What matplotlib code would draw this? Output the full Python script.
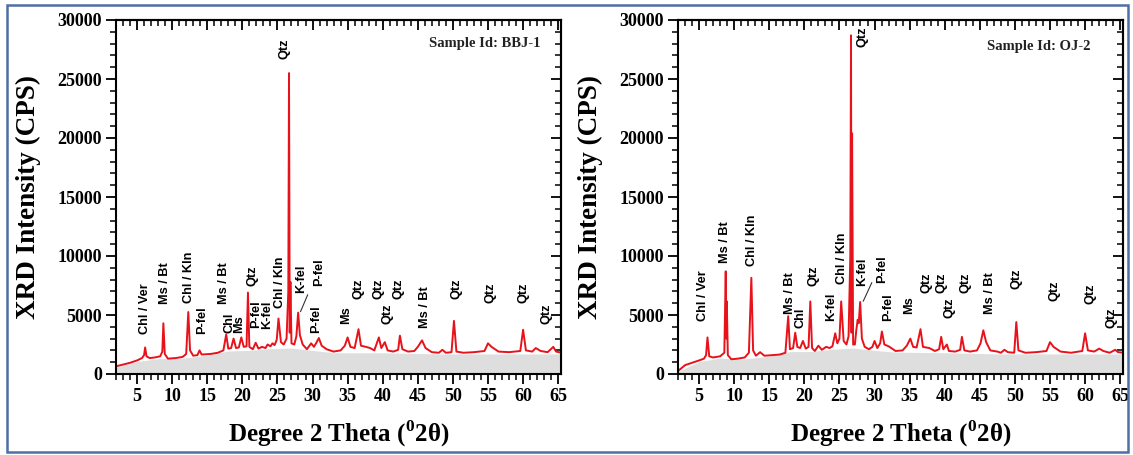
import matplotlib
matplotlib.use("Agg")
import matplotlib.pyplot as plt
from matplotlib.ticker import MultipleLocator
from matplotlib.patches import Rectangle

plt.rcParams["mathtext.fontset"] = "custom"
plt.rcParams["mathtext.rm"] = "Liberation Serif:bold"
plt.rcParams["mathtext.bf"] = "Liberation Serif:bold"

# ---- data ----
bbj_x = [2, 3, 4, 5, 5.7, 6.0, 6.15, 6.35, 6.8, 7.5, 8.3, 8.6, 8.75, 8.95, 9.4, 10.5, 11.5, 12.0, 12.3, 12.55,
         13.0, 13.6, 13.9, 14.2, 15.5, 16.5, 17.3, 17.7, 18.0, 18.4, 18.75, 19.1, 19.5, 19.85, 20.2, 20.6, 20.8,
         21.0, 21.5, 21.9, 22.3, 22.8, 23.3, 23.6, 24.0, 24.3, 24.6, 24.9, 25.15, 25.5, 25.9, 26.3, 26.55, 26.65,
         26.75, 26.85, 27.0, 27.4, 27.7, 27.95, 28.2, 28.6, 29.2, 29.8, 30.2, 30.5, 30.9, 31.3, 32.0, 33.0, 34.0,
         34.6, 35.0, 35.4, 36.0, 36.55, 36.9, 37.6, 38.2, 38.8, 39.45, 39.8, 40.3, 40.7, 41.5, 42.2, 42.45, 42.8,
         43.6, 44.5, 45.0, 45.6, 46.1, 47.0, 48.0, 48.5, 49.0, 49.8, 50.15, 50.5, 51.5, 53.0, 54.5, 55.0, 55.5,
         56.5, 58.0, 59.6, 60.0, 60.4, 61.3, 61.8, 62.5, 63.5, 64.3, 64.7, 65.5]
bbj_y = [650, 800, 950, 1150, 1350, 1600, 2250, 1500, 1350, 1400, 1500, 1900, 4300, 1700, 1300, 1350, 1450, 1700,
         5250, 2000, 1550, 1600, 2000, 1650, 1700, 1800, 2000, 3350, 2150, 2200, 3000, 2200, 2250, 3100, 2300,
         2350, 6900, 2300, 2100, 2650, 2150, 2300, 2200, 2500, 2350, 2600, 2450, 2900, 4700, 2700, 2500, 3000,
         7000, 25500, 3500, 7800, 2600, 2500, 3200, 5200, 3300, 2500, 2100, 2600, 2300, 2600, 3050, 2400, 2100,
         1900, 2000, 2400, 3100, 2300, 2200, 3800, 2400, 2300, 2200, 2000, 3100, 2200, 2700, 2000, 1900, 2050,
         3250, 2100, 1900, 1950, 2300, 2850, 2200, 1850, 1800, 2050, 1800, 1850, 4500, 1900, 1800, 1850, 1950,
         2600, 2300, 1900, 1850, 1950, 3750, 2000, 1900, 2200, 1950, 1850, 2300, 1900, 1800]
bbj_bg_x = [2, 5, 8, 11, 15, 18, 21, 24, 27, 30, 33, 40, 48, 55, 65.5]
bbj_bg_y = [600, 1050, 1300, 1300, 1600, 1950, 2000, 2150, 2200, 2000, 1800, 1800, 1700, 1700, 1700]

oj_x = [2, 3, 4, 5, 5.7, 6.0, 6.2, 6.45, 7.0, 8.0, 8.6, 8.8, 8.9, 8.95, 9.1, 9.6, 10.5, 11.5, 12.1, 12.45, 12.7,
        13.1, 13.7, 14.3, 15.5, 16.5, 17.3, 17.7, 17.95, 18.4, 18.7, 19.0, 19.4, 19.8, 20.2, 20.6, 20.85, 21.1,
        21.5, 22.0, 22.5, 23.1, 23.6, 24.0, 24.4, 24.7, 25.0, 25.25, 25.6, 26.0, 26.3, 26.55, 26.65, 26.72, 26.8,
        26.95, 27.2, 27.4, 27.6, 27.75, 27.95, 28.2, 28.6, 29.2, 29.7, 30.0, 30.4, 30.8, 31.05, 31.4, 32.0, 33.0,
        34.0, 34.6, 35.1, 35.5, 36.0, 36.55, 36.9, 37.8, 38.6, 39.2, 39.5, 39.8, 40.3, 40.6, 41.5, 42.2, 42.45,
        42.8, 43.6, 44.6, 45.1, 45.5, 45.9, 46.5, 47.5, 48.0, 48.5, 49.0, 49.9, 50.2, 50.5, 51.5, 53.0, 54.5,
        55.0, 55.5, 56.5, 58.0, 59.6, 60.0, 60.4, 61.3, 62.0, 62.6, 63.5, 64.3, 64.7, 65.5]
oj_y = [250, 750, 950, 1150, 1300, 1600, 3100, 1500, 1400, 1500, 1800, 8700, 3000, 6150, 1600, 1250, 1300, 1400,
        1800, 8150, 2000, 1550, 1850, 1550, 1600, 1650, 1800, 4900, 2100, 2200, 3500, 2300, 2200, 2800, 2150,
        2300, 6150, 2200, 1950, 2400, 2050, 2300, 2200, 2350, 3450, 2600, 3000, 6150, 2800, 2500, 3200, 10000,
        28700, 3500, 20400, 2500, 2500, 3700, 4600, 4300, 6100, 3000, 2300, 2100, 2300, 2800, 2200, 2600, 3600,
        2500, 2350, 1950, 2000, 2400, 3000, 2300, 2250, 3800, 2300, 2200, 1950, 2100, 3150, 2100, 2500, 1950,
        1900, 2050, 3150, 2000, 1900, 2000, 2600, 3700, 2700, 2000, 1900, 1800, 2050, 1850, 1800, 4400, 2000,
        1800, 1850, 1950, 2700, 2300, 1900, 1800, 1950, 3450, 2000, 1900, 2150, 1950, 1800, 2050, 1850, 1800]
oj_bg_x = [2, 5, 8, 11, 15, 18, 21, 24, 27, 30, 33, 40, 48, 55, 65.5]
oj_bg_y = [200, 1050, 1350, 1250, 1500, 1900, 1900, 2100, 2200, 2000, 1850, 1800, 1700, 1700, 1700]

# peak labels: text, x, y(bottom of text)
bbj_labels = [("Chl / Ver", 6.15, 3370), ("Ms / Bt", 9.0, 5900), ("Chl / Kln", 12.4, 6040), ("P-fel", 14.3, 3430),
              ("Ms / Bt", 17.45, 5900), ("Chl", 18.1, 3510), ("Ms", 19.5, 3510), ("Qtz", 21.5, 7450),
              ("P-fel", 21.95, 3930), ("K-fel", 23.5, 3800), ("Chl / Kln", 25.3, 5620), ("Qtz", 26.0, 26700),
              ("K-fel", 28.4, 6880), ("P-fel", 30.5, 3510), ("P-fel", 30.9, 7450), ("Ms", 34.8, 4220),
              ("Qtz", 36.5, 6320), ("Qtz", 39.4, 6320), ("Qtz", 40.7, 4220), ("Qtz", 42.3, 6320),
              ("Ms / Bt", 46.0, 3930), ("Qtz", 50.5, 6320), ("Qtz", 55.4, 6040), ("Qtz", 60.05, 6040),
              ("Qtz", 63.4, 4220)]
oj_labels = [("Chl / Ver", 5.5, 4500), ("Ms / Bt", 8.75, 9410), ("Chl / Kln", 12.55, 9130), ("Ms / Bt", 17.95, 5060),
             ("Chl", 19.4, 3930), ("Qtz", 21.35, 7450), ("K-fel", 23.85, 4500), ("Chl / Kln", 25.4, 7590),
             ("Qtz", 28.3, 27680), ("K-fel", 28.3, 7450), ("P-fel", 31.1, 7730), ("P-fel", 31.9, 4500),
             ("Ms", 34.9, 5060), ("Qtz", 37.4, 6880), ("Qtz", 39.5, 6880), ("Qtz", 40.7, 4780),
             ("Qtz", 43.0, 6880), ("Ms / Bt", 46.4, 5060), ("Qtz", 50.2, 7170), ("Qtz", 55.6, 6180),
             ("Qtz", 60.8, 5900), ("Qtz", 63.8, 3930)]
bbj_leader = ([29.3, 28.3], [6700, 5300])
oj_leader = ([29.6, 28.4], [7730, 6180])

SERIF = ["Liberation Serif", "DejaVu Serif"]

fig = plt.figure(figsize=(11.33, 4.55), dpi=100)


def panel(rect, x, y, bgx, bgy, labels, leader, sample, sid_x, sid_y):
    ax = fig.add_axes(rect)
    ax.fill_between(bgx, 0, bgy, color="#dedede", lw=0, zorder=1)
    ax.plot(x, y, color="#e8121a", lw=1.4, zorder=2)
    ax.plot(leader[0], leader[1], color="#333333", lw=0.8, zorder=3)
    for txt, tx, ty in labels:
        ax.text(tx, ty, txt, rotation=90, ha="center", va="bottom",
                fontsize=9.2, fontweight="bold", family="Liberation Sans", zorder=4)
    ax.text(sid_x, sid_y, "Sample Id: " + sample, transform=ax.transAxes, ha="right", va="center",
            fontsize=10.5, fontweight="bold", family=SERIF, color="#222222")

    ax.set_xlim(2, 65.4)
    ax.set_ylim(0, 30000)
    ax.xaxis.set_major_locator(MultipleLocator(5))
    ax.xaxis.set_minor_locator(MultipleLocator(1))
    ax.yaxis.set_major_locator(MultipleLocator(5000))
    ax.yaxis.set_minor_locator(MultipleLocator(1000))
    ax.set_xticks(range(5, 66, 5))
    ax.tick_params(which="major", direction="out", length=7, width=1.3, labelsize=13, pad=3)
    ax.tick_params(which="minor", direction="out", length=4, width=1.1)
    for lab in ax.get_xticklabels() + ax.get_yticklabels():
        lab.set_fontfamily(SERIF)
        lab.set_fontweight("bold")
    for s in ax.spines.values():
        s.set_linewidth(1.5)

    # inward ticks on top and right
    top = ax.secondary_xaxis("top")
    top.xaxis.set_major_locator(MultipleLocator(5))
    top.xaxis.set_minor_locator(MultipleLocator(1))
    top.tick_params(which="major", direction="in", length=7, width=1.3, labeltop=False)
    top.tick_params(which="minor", direction="in", length=4, width=1.1)
    top.spines["top"].set_linewidth(1.5)
    right = ax.secondary_yaxis("right")
    right.yaxis.set_major_locator(MultipleLocator(5000))
    right.yaxis.set_minor_locator(MultipleLocator(1000))
    right.tick_params(which="major", direction="in", length=7, width=1.3, labelright=False)
    right.tick_params(which="minor", direction="in", length=4, width=1.1)
    right.spines["right"].set_linewidth(1.5)

    ax.set_xlabel("Degree 2 Theta ($^{0}$2\u03b8)", fontsize=18, fontweight="bold", family=SERIF, labelpad=10)
    ax.set_ylabel("XRD Intensity (CPS)", fontsize=19.5, fontweight="bold", family=SERIF, labelpad=12)
    return ax


panel([116 / 1133, 81 / 455, 445 / 1133, 354 / 455], bbj_x, bbj_y, bbj_bg_x, bbj_bg_y,
      bbj_labels, bbj_leader, "BBJ-1", 0.953, 0.935)
panel([678 / 1133, 81 / 455, 445 / 1133, 354 / 455], oj_x, oj_y, oj_bg_x, oj_bg_y,
      oj_labels, oj_leader, "OJ-2", 0.926, 0.924)

# blue frame around the whole figure
fig.patches.append(Rectangle((7 / 1133, 3 / 455), 1121 / 1133, 447 / 455, transform=fig.transFigure,
                             fill=False, edgecolor="#4f6ea6", lw=1.8))

fig.savefig("out.png", dpi=100)
